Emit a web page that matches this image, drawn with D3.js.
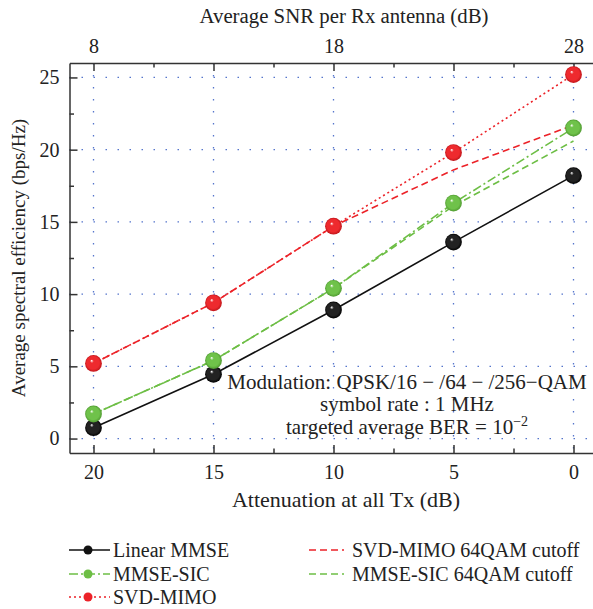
<!DOCTYPE html>
<html>
<head>
<meta charset="utf-8">
<script src="https://cdn.jsdelivr.net/npm/d3@7"></script>
<style>
  body { margin: 0; background: #fff; }
  text { font-family: "Liberation Serif", "DejaVu Serif", serif; fill: #222; }
</style>
</head>
<body>
<script>
// data
let attenuation = [20, 15, 10, 5, 0];
let linearMMSE = [0.75, 4.45, 8.9, 13.6, 18.2];
let mmseSIC = [1.7, 5.4, 10.4, 16.3, 21.5];
let svdMIMO = [5.2, 9.4, 14.7, 19.8, 25.2];
let svdCutoff = [5.2, 9.4, 14.7, 18.6, 21.7];
let sicCutoff = [1.7, 5.4, 10.4, 16.1, 20.6];
let xTicks = [20, 15, 10, 5, 0];
let xMinor = [17.5, 12.5, 7.5, 2.5];
let snrTicks = [8, 13, 18, 23, 28];
let snrLabels = [8, 18, 28];
let snrMinor = [10.5, 15.5, 20.5, 25.5];
let yTicks = [0, 5, 10, 15, 20, 25];
let yMinor = [2.5, 7.5, 12.5, 17.5, 22.5];

let svgWidth = 593, svgHeight = 609;
let plot = { left: 69.5, right: 597.5, top: 63, bottom: 453 };
let red = "#ec2228", green = "#6dbe45", black = "#111";
let grid = "#5575cc";

let svg = d3.select("body").append("svg")
  .attr("width", svgWidth)
  .attr("height", svgHeight);

let x = d3.scaleLinear().domain([21, -1]).range([plot.left, plot.right]);
let xTop = d3.scaleLinear().domain([7, 29]).range([plot.left, plot.right]);
let y = d3.scaleLinear().domain([-1, 26]).range([plot.bottom, plot.top]);

// sphere gradients
let defs = svg.append("defs");
function sphere(id, base, dark) {
  let g = defs.append("radialGradient").attr("id", id)
    .attr("cx", "50%").attr("cy", "50%").attr("r", "50%")
    .attr("fx", "38%").attr("fy", "33%");
  g.append("stop").attr("offset", "0%").attr("stop-color", "#fff");
  g.append("stop").attr("offset", "22%").attr("stop-color", base).attr("stop-opacity", 1);
  g.append("stop").attr("offset", "75%").attr("stop-color", base);
  g.append("stop").attr("offset", "100%").attr("stop-color", dark);
}
sphere("gRed", "#ee2a2e", "#c0151a");
sphere("gGreen", "#6fc24a", "#4f9a30");
sphere("gBlack", "#222", "#000");

// grid
let gridG = svg.append("g")
  .attr("stroke", grid).attr("stroke-width", 1.3)
  .attr("stroke-dasharray", "1.5,10.5");
gridG.selectAll(".gy").data(yTicks).join("line")
  .attr("x1", plot.left).attr("x2", plot.right)
  .attr("y1", d => y(d)).attr("y2", d => y(d));
gridG.selectAll(".gx").data(xTicks).join("line")
  .attr("x1", d => x(d)).attr("x2", d => x(d))
  .attr("y1", plot.top).attr("y2", plot.bottom);

// axes
function styleAxis(g) {
  g.selectAll("path, line").attr("stroke", "#333").attr("stroke-width", 1.5);
  g.selectAll("text").attr("font-size", 20).attr("fill", "#222")
    .attr("font-family", "Liberation Serif, DejaVu Serif, serif");
}
let xAxisG = svg.append("g")
  .attr("transform", `translate(0, ${plot.bottom})`)
  .call(d3.axisBottom(x).tickValues(xTicks).tickSizeInner(-8).tickSizeOuter(0).tickPadding(12))
  .call(styleAxis);
svg.append("g")
  .attr("transform", `translate(0, ${plot.bottom})`)
  .call(d3.axisBottom(x).tickValues(xMinor).tickSizeInner(-4.5).tickSizeOuter(0).tickFormat(""))
  .call(styleAxis).select(".domain").remove();

let topAxisG = svg.append("g")
  .attr("transform", `translate(0, ${plot.top})`)
  .call(d3.axisTop(xTop).tickValues(snrTicks).tickSizeInner(-8).tickSizeOuter(0).tickPadding(10)
    .tickFormat(d => snrLabels.includes(d) ? d : ""))
  .call(styleAxis);
svg.append("g")
  .attr("transform", `translate(0, ${plot.top})`)
  .call(d3.axisTop(xTop).tickValues(snrMinor).tickSizeInner(-4.5).tickSizeOuter(0).tickFormat(""))
  .call(styleAxis).select(".domain").remove();

let yAxisG = svg.append("g")
  .attr("transform", `translate(${plot.left}, 0)`)
  .call(d3.axisLeft(y).tickValues(yTicks).tickSizeInner(-8).tickSizeOuter(0).tickPadding(10))
  .call(styleAxis);
svg.append("g")
  .attr("transform", `translate(${plot.left}, 0)`)
  .call(d3.axisLeft(y).tickValues(yMinor).tickSizeInner(-4.5).tickSizeOuter(0).tickFormat(""))
  .call(styleAxis).select(".domain").remove();

// titles
svg.append("text").text("Average SNR per Rx antenna (dB)")
  .attr("x", 344).attr("y", 23).attr("text-anchor", "middle").attr("font-size", 20.8);
svg.append("text").text("Attenuation at all Tx (dB)")
  .attr("x", 346).attr("y", 507).attr("text-anchor", "middle").attr("font-size", 22);
svg.append("g")
  .attr("transform", `translate(25, 258)`)
  .append("text").text("Average spectral efficiency (bps/Hz)")
  .attr("text-anchor", "middle").attr("font-size", 19)
  .attr("transform", "rotate(-90)");

// series
let series = [
  { name: "SVD-MIMO 64QAM cutoff", values: svdCutoff, color: red, dash: "7,4", marker: null },
  { name: "MMSE-SIC 64QAM cutoff", values: sicCutoff, color: green, dash: "7,4", marker: null },
  { name: "Linear MMSE", values: linearMMSE, color: black, dash: null, marker: "gBlack" },
  { name: "MMSE-SIC", values: mmseSIC, color: green, dash: "9,3,2,3", marker: "gGreen" },
  { name: "SVD-MIMO", values: svdMIMO, color: red, dash: "2,3", marker: "gRed" }
];
let line = d3.line().x((d, i) => x(attenuation[i])).y(d => y(d));
svg.append("g").selectAll("path").data(series).join("path")
  .attr("d", d => line(d.values))
  .attr("fill", "none")
  .attr("stroke", d => d.color)
  .attr("stroke-width", 1.6)
  .attr("stroke-dasharray", d => d.dash);

let markerSeries = series.filter(s => s.marker);
svg.append("g").selectAll("g").data(markerSeries).join("g")
  .selectAll("circle").data(s => s.values.map(v => ({ v: v, m: s.marker })))
  .join("circle")
  .attr("cx", (d, i) => x(attenuation[i]))
  .attr("cy", d => y(d.v))
  .attr("r", 8.4)
  .attr("fill", d => `url(#${d.m})`);

// annotation
let note = svg.append("g").attr("font-size", 20);
note.append("text").attr("x", 407).attr("y", 389).attr("text-anchor", "middle")
  .text("Modulation: QPSK/16 \u2212 /64 \u2212 /256\u2212QAM").attr("font-size", 21);
note.append("text").attr("x", 407).attr("y", 411).attr("text-anchor", "middle")
  .text("symbol rate : 1 MHz").attr("font-size", 21);
let ber = note.append("text").attr("x", 407).attr("y", 434).attr("text-anchor", "middle")
  .attr("font-size", 21);
ber.append("tspan").text("targeted average BER = 10");
ber.append("tspan").text("\u22122").attr("font-size", 14).attr("dy", -8);

// legend
let legendItems = [
  { s: series[2], x: 69, y: 550 },
  { s: series[3], x: 69, y: 574 },
  { s: series[4], x: 69, y: 597 },
  { s: series[0], x: 309, y: 550 },
  { s: series[1], x: 309, y: 574 }
];
let legend = svg.append("g").selectAll("g").data(legendItems).join("g")
  .attr("transform", d => `translate(${d.x}, ${d.y})`);
legend.append("line")
  .attr("x1", 0).attr("x2", d => d.s.marker ? 41 : 35)
  .attr("stroke", d => d.s.color).attr("stroke-width", 1.6)
  .attr("stroke-dasharray", d => d.s.dash);
legend.filter(d => d.s.marker).append("circle")
  .attr("cx", 19).attr("r", 4.5).attr("fill", d => d.s.color);
legend.append("text").text(d => d.s.name)
  .attr("x", d => d.s.marker ? 44 : 43)
  .attr("dy", "0.33em")
  .attr("font-size", 20);
</script>
</body>
</html>
